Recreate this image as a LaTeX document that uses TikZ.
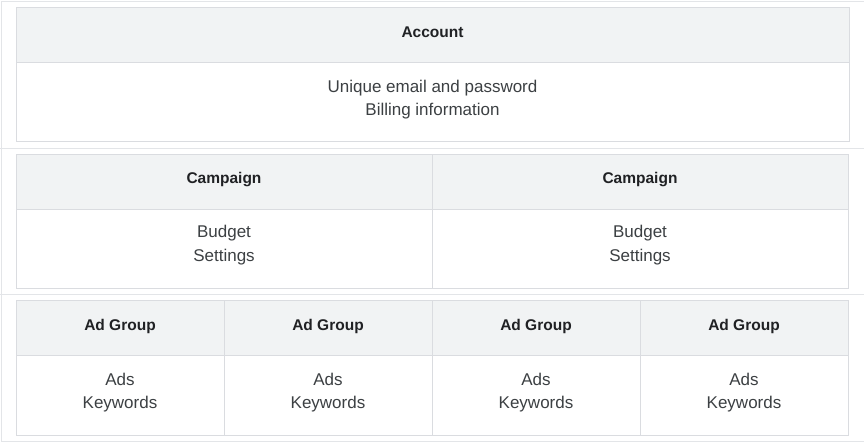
\documentclass[tikz,border=0pt]{standalone}
\usepackage{fontspec}
\setmainfont{Liberation Sans}
\usepackage{tikz}
\usetikzlibrary{positioning}

\definecolor{hdrfill}{HTML}{F1F3F4}
\definecolor{cellline}{HTML}{DADCE0}
\definecolor{outerline}{HTML}{E3E5E8}
\definecolor{hdrtext}{HTML}{202124}
\definecolor{bodytext}{HTML}{3C4043}

\begin{document}
\begin{tikzpicture}
	[x=1pt,y=-1pt,
	hdrcell/.style={draw=cellline,fill=hdrfill,line width=1pt,minimum height=55pt,inner sep=0pt},
	bodycell/.style={draw=cellline,fill=white,line width=1pt,minimum height=79pt,inner sep=0pt},
	hdrtxt/.style={anchor=base,inner sep=0pt,text=hdrtext,font=\bfseries\fontsize{15.5}{18}\selectfont},
	bodytxt/.style={anchor=base,inner sep=0pt,text=bodytext,font=\fontsize{17}{20}\selectfont}]
	\useasboundingbox (0,0) rectangle (864,442);
	% frame round the three levels
	\draw[outerline,line width=1pt] (864,1) -- (1,1) -- (1,441) -- (864,441);
	\draw[outerline,line width=1pt] (0,148) -- (864,148);
	\draw[outerline,line width=1pt] (0,294.5) -- (864,294.5);
	
	% account
	\node[hdrcell,minimum width=833pt] (acc) at (432.5,34.5) {};
	\node[bodycell,minimum width=833pt] (accbody) at (432.5,101.5) {};
	\node[hdrtxt] (acctitle) at (432.5,37) {Account};
	\node[bodytxt] (accline1) at (432.5,92) {Unique email and password};
	\node[bodytxt] (accline2) at (432.5,115.5) {Billing information};
	
	% campaigns
	\foreach \i/\cx in {1/224,2/640}
	{
	\node[hdrcell,minimum width=416pt] (camp\i) at (\cx,181.5) {};
	\node[bodycell,minimum width=416pt] (campbody\i) at (\cx,248.5) {};
	\node[hdrtxt] (camptitle\i) at (\cx,183.5) {Campaign};
	\node[bodytxt] (campline\i a) at (\cx,237.5) {Budget};
	\node[bodytxt] (campline\i b) at (\cx,261) {Settings};
	}
	
	% ad groups
	\foreach \i/\cx in {1/120,2/328,3/536,4/744}
	{
	\node[hdrcell,minimum width=208pt] (adg\i) at (\cx,327.5) {};
	\node[bodycell,minimum width=208pt,minimum height=80pt] (adgbody\i) at (\cx,395) {};
	\node[hdrtxt] (adgtitle\i) at (\cx,330) {Ad Group};
	\node[bodytxt] (adgline\i a) at (\cx,385) {Ads};
	\node[bodytxt] (adgline\i b) at (\cx,408.5) {Keywords};
	}
\end{tikzpicture}
\end{document}
